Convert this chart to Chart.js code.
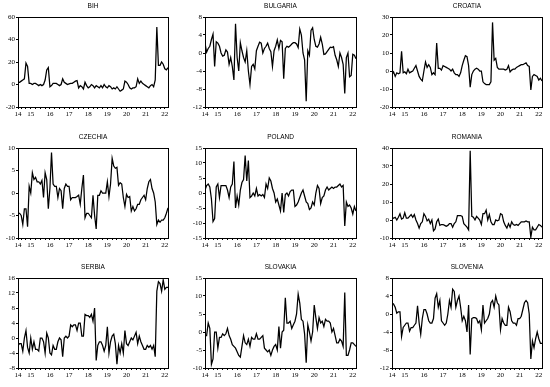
<!DOCTYPE html>
<html>
<head>
<meta charset="utf-8">
<script src="https://cdn.jsdelivr.net/npm/chart.js@4.4.0/dist/chart.umd.min.js"></script>
<style>
  html, body { margin: 0; padding: 0; background: #fff; }
  #wrap { position: relative; width: 550px; height: 387px; overflow: hidden; }
  #wrap canvas { position: absolute; }
</style>
</head>
<body>
<div id="wrap"></div>
<script>
// monthly observations, 2014M05 .. 2022M03
const startYear = 2014;
const startMonth = 5;
const yearLabels = ['14', '15', '16', '17', '18', '19', '20', '21', '22'];

const countries = ['BIH', 'BULGARIA', 'CROATIA', 'CZECHIA', 'POLAND', 'ROMANIA', 'SERBIA', 'SLOVAKIA', 'SLOVENIA'];

const bih = [
    2, 2, 3, 4, 5, 19, 16, 1,
    1, 0, 1, 1, 0, -1, 0, -1, 0, 4, 13, 15,
    -2, -1, 1, 1, 1, 0, -1, 0, 5, 2, 1, 0,
    0.5, 1, 1, 2, 3, 3.5, -3, -1, -2, -4, 2, -1,
    -3, -2, 0, -1, -3, -1, -2, -3, -1, -3, 0, -2,
    -3, -1, -2, -4, -3, -4, -2, -4, -6, -5, -4, 3,
    2, 0, -3, -4, -3, -3, -2, 5, 1, 3, 1, 0,
    -1, -2, -3, -1, 0, -2, 4, 51, 17, 17, 20, 18,
    14, 13, 15
];
const bulgaria = [
    2.2, 0.2, 1, 1.5, 3, 4.2, -3, 2.5,
    2.2, 1.5, 0, -0.7, -0.5, 0.7, 0.2, -2.5, -1, -3, -6, 6.5,
    -1, -4, 2.3, 0.5, -1, -2, 0.5, -4, -7, -3, -2.5, -3.5,
    0.5, 1.5, 2.4, 2.2, 0, 1, 1.5, 2.2, 1, 0.3, -3, 0.5,
    1.5, 2.9, 1, 2.8, 2.5, -5.7, 1, 1.5, 1.3, 1.6, 2, 2.3,
    2.3, 2, 1.2, 5.3, 4, 0, -1.5, -10.7, 0.5, -0.5, 5, 5.6,
    3, 1.5, 1.3, 2, 3.5, 2, -0.3, -0.2, 0.3, 0.8, 1.3, 1.2,
    1.4, -0.5, -1.5, -3, 0, -1, -2.5, -9, -1, 0, -5.3, -5,
    -0.3, -0.5, -1.3
];
const croatia = [
    -2, -0.5, -3, -1, -1.5, -1, 11, -1,
    -0.5, -1.5, 1, -1, -0.5, 0, 1.5, 3, 0, -3, -4.5, -5.5,
    0, 5, 2, 3.5, 2, -2, -1, -2, 15.5, 1.5, 1.5, 0.5,
    3, 2.5, 2, 1.5, 1, 0, 1, -1, -2, -2, -3, -1,
    3, 6, 8.5, 8, 3, -9, -2, 0, 1, 1.5, 1, 0,
    0, -6, -7, -7.5, -7.5, -7.5, -6, 27, 6, 7, 2, 1,
    1, 1, 1, 0.5, 1, 3, -0.5, 0.5, 1, 1, 2, 2.5,
    3, 3.5, 3.5, 4, 4.5, 3, 2.5, -10.5, -3, -2, -2.5, -3,
    -5, -4, -5.5
];
const czechia = [
    -4.5, -4.5, -5, -7, -3.5, -3.5, -7.5, 1.5,
    0, 4.5, 3, 3.5, 2.5, 2.5, 2, 2.8, -1, 4.5, 3, -3.5,
    1, 9, 2, 1.5, 1.5, -1, 1, 0.5, -3.5, 1, 2, 1.5,
    1.5, -1.5, -1, -1, -1, -0.8, -0.5, -2.5, 1, 4, -5.5, -4.5,
    -4.5, -5, -5.5, -0.5, -5, -8, -0.5, -0.5, 0.5, 0, 0, 0,
    2.5, -0.8, 2, 7.7, 6, 5.5, 5.7, 1.7, 2.3, 2, -1, -3,
    -0.3, -1, -0.8, -4, -3, -4, -3.5, -2.5, -2.5, -1.5, -1, -0.5,
    -1.5, 1, 2.5, 3, 1, 0, -2, -7, -6, -6.5, -6, -6,
    -5.5, -4.5, -3.3
];
const poland = [
    1, 2.5, 3, 2, -2, -9.5, -8.5, 2,
    3, -1.5, 2.5, 2.5, 2.5, 2.5, 1, -1.5, 2, 3, 10.5, -5,
    -1, -4, 1, 3.5, 4.5, 12.5, 4, 10.8, -1.5, -1, 0, -1,
    1.5, -1, -0.5, -1, -0.5, -1.5, 3, 1.5, 5, 4, 1.5, 0,
    -3, -2, -4, -6, 0, -6.5, -0.5, 0, -1, 0.5, 1, 1,
    -4.5, -4, -3, -1.5, 0, 1, -1, -3, -3.5, -5.5, -5, -3,
    -4, 0, 2.5, 1.5, -3.5, -1.5, -1, 1, 2, 1, 1.5, 2,
    1.5, 2, 2, 2.5, 3, 2, 2.5, -11, -3, -4.5, -4, -5,
    -7, -4.5, -6
];
const romania = [
    1.5, 1, 1.5, 0, 1.5, 3.5, 0.5, 1,
    4, 1, 1, 2, 3, 1.5, 3, 0, -2, -4.5, -2, -1,
    3.5, 2, -0.5, 0.5, -2, 0, -6, -5, -1, 0.5, -3, -2.5,
    -2.5, -3, -3.5, -3, -2, -2, -4, -2, -1, 2.5, 2.5, 2.5,
    2, -2, -3, -4, -5.5, 38.5, 2, 1.5, 0, 2, 1, 0,
    -2.5, 3.5, 3.5, 5.5, 0, 3, -1, -2.5, -2.5, 0, -0.5, 0,
    3.5, 3, -1, -3, -4.5, -2, -4, -1, -2.5, -3, -2.5, -3,
    -2, -1, -1, -1, -0.5, -1, -1, -9.5, -4, -5.5, -5.5, -4,
    -2.5, -3, -4
];
const serbia = [
    -2, -1.5, -1.5, -3.5, 0, 2, -2.5, -4,
    0, -3, -1, -3, -3, -3.5, 0, 0, -1, -4, 1.3, 0,
    -4, -4.5, -2, -3, -3, -1, 0, -0.5, -5, 0, 0.5, 0,
    0.5, 3.5, 3, 3.5, 3.5, 2, 4, 4, 0.5, 0.5, 6.3, 6,
    6, 5.5, 6.3, 4.5, 8, -6, -2, -1, -1, -2, -3.5, -2,
    3, -4, -1, 0.5, 1, -1.5, -7, -2, -4, -1.5, -4, 2,
    -1.5, -2, -1, 0, -0.5, 0.5, 1.5, -1.5, 0.5, -1, -2, -3,
    -3, -2, -2.5, -2, -3, -2, -5, 12.5, 15, 14.5, 12.5, 15.5,
    13, 13.5, 13.5
];
const slovakia = [
    -1, -1, 2.5, 1, -9, -7.5, 0, 0,
    -4.5, -1.5, -1.5, -0.5, -1, -0.5, 1, -1, -2, -3.5, -4, -4.5,
    -5.5, -6.5, -7, -4, -1, -3, -3.5, -2, -4, -1.5, -2, -2,
    -0.5, -2, -2, -1.5, -1, -4.5, -5, -5.5, -5, -6.5, -5, -4,
    -3.5, -5, 1.5, -4.5, 0, 0.5, 9.5, 2.5, 2.5, 3, 1, 2,
    3, 5, 10.5, 8, 3.5, 3, -0.5, -8.5, 2, 0, -2.5, 0,
    7.5, 4, 1, 4, 2.5, 3, 1.5, 3.5, 3, 3, 2.5, 0,
    1, -1, -3, -3, -2, -2.5, -4, 11, -6.5, -6.5, -5, -3,
    -3, -3.5, -4
];
const slovenia = [
    2.5, 2.2, 1.5, 0.2, 0.5, 0.5, -5, -3,
    -2.5, -2, -2, -3.8, -3, -3, -2.5, -2, 1.8, -2, -4.5, -1,
    1, 1, 0, -1.5, -2, -2, -1, 3.5, 4.5, 1.5, 3, -1.5,
    -2, -2.5, -2, 0, 3, 1.5, 5.5, 5, 1.5, 3, 4, 1.5,
    -1.5, -0.5, -1.5, -4, 2, -9, -1, -0.8, -0.8, -1, -2, -1.5,
    -3.5, 2, -2, -1.5, -1, 0, 2.5, 3, 1.5, 4, 2.5, 2,
    -3.5, -1, -2, -2.5, -2.5, 1.5, 0.5, -1.5, -2, -2, -2.5, -1,
    -1, -0.5, 1, 2.5, 3, 2.5, 0, -10, -6, -7.5, -5.5, -4,
    -5.5, -6.5, -6.5
];
const seriesValues = [bih, bulgaria, croatia, czechia, poland, romania, serbia, slovakia, slovenia];

// y axis range per panel
const yMins = [-20, -12, -20, -10, -15, -10, -8, -10, -12];
const yMaxs = [60, 8, 30, 10, 15, 40, 16, 15, 8];
const ySteps = [20, 4, 10, 5, 5, 10, 4, 5, 4];

// layout of the 3x3 grid (plot area boxes)
const colLeft = [18, 205, 392];
const colWidth = [150, 151, 150];
const rowTop = [17, 148, 278];
const plotH = 90;
const padL = 24, padT = 14, padR = 8, padB = 12;

const xMin = startYear + (startMonth - 1) / 12;
const xMax = xMin + (bih.length - 1) / 12;

// quarterly tick marks, year labels at January
const xTicks = [xMin];
for (let q = startYear * 4 + 2; q <= (startYear + yearLabels.length - 1) * 4; q++) xTicks.push(q / 4);

function xLabel(v) {
    if (Math.abs(v - xMin) < 1e-6) return yearLabels[0];
    if (Number.isInteger(v)) return yearLabels[v - startYear] || '';
    return '';
}

// frame around the plot area + panel title
const panelFrame = {
    id: 'panelFrame',
    afterDatasetsDraw(chart, args, opts) {
        const { ctx, chartArea: a } = chart;
        ctx.save();
        ctx.strokeStyle = '#000';
        ctx.lineWidth = 1;
        ctx.strokeRect(Math.round(a.left) + 0.5, Math.round(a.top) + 0.5, Math.round(a.width), Math.round(a.height));
        ctx.fillStyle = '#000';
        ctx.font = '6.5px "Liberation Sans", Arial, sans-serif';
        ctx.textAlign = 'center';
        ctx.textBaseline = 'middle';
        ctx.fillText(opts.text, (a.left + a.right) / 2, a.top - 10.5);
        ctx.restore();
    }
};

function makePanel(idx) {
    const col = idx % 3;
    const row = Math.floor(idx / 3);
    const canvas = document.createElement('canvas');
    canvas.width = colWidth[col] + padL + padR;
    canvas.height = plotH + padT + padB;
    canvas.style.left = (colLeft[col] - padL) + 'px';
    canvas.style.top = (rowTop[row] - padT) + 'px';
    document.getElementById('wrap').appendChild(canvas);

    const points = seriesValues[idx].map((y, i) => ({ x: xMin + i / 12, y }));
    const tickFont = { family: '"Liberation Serif", "Times New Roman", serif', size: 7 };

    new Chart(canvas, {
        type: 'line',
        data: {
            datasets: [{
                data: points,
                borderColor: '#000',
                borderWidth: 1.25,
                pointRadius: 0,
                tension: 0,
                fill: false
            }]
        },
        options: {
            responsive: false,
            animation: false,
            events: [],
            layout: { padding: { top: padT, right: padR, left: 0, bottom: 0 } },
            plugins: {
                legend: { display: false },
                tooltip: { enabled: false },
                panelFrame: { text: countries[idx] }
            },
            scales: {
                x: {
                    type: 'linear',
                    min: xMin,
                    max: xMax,
                    afterBuildTicks: s => { s.ticks = xTicks.map(v => ({ value: v })); },
                    afterFit: s => { s.height = padB; },
                    ticks: {
                        autoSkip: false,
                        maxRotation: 0,
                        padding: 1,
                        color: '#000',
                        font: tickFont,
                        callback: v => xLabel(v)
                    },
                    grid: { drawOnChartArea: false, drawTicks: true, tickLength: 2, color: '#000' },
                    border: { display: false }
                },
                y: {
                    min: yMins[idx],
                    max: yMaxs[idx],
                    afterFit: s => { s.width = padL; },
                    ticks: {
                        stepSize: ySteps[idx],
                        padding: 1,
                        color: '#000',
                        font: tickFont
                    },
                    grid: { drawOnChartArea: false, drawTicks: true, tickLength: 2, color: '#000' },
                    border: { display: false }
                }
            }
        },
        plugins: [panelFrame]
    });
}

countries.forEach((c, i) => makePanel(i));
</script>
</body>
</html>
